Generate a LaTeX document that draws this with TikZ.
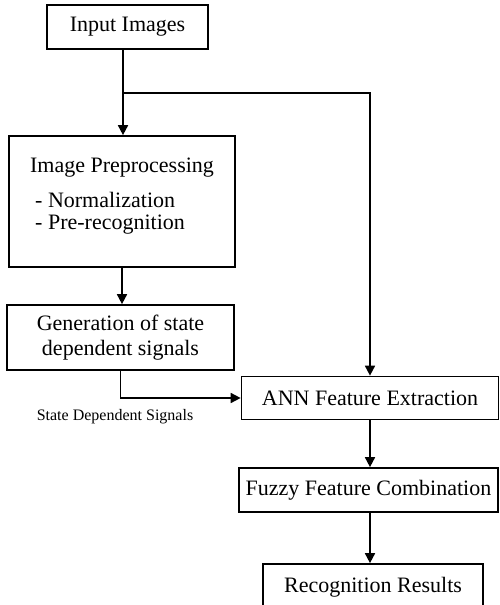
\documentclass[tikz,border=0pt]{standalone}
\usepackage{fontspec}
\setmainfont{Liberation Serif}
\usetikzlibrary{arrows.meta}
\begin{document}
\begin{tikzpicture}[x=1pt,y=-1pt,
  box/.style={draw,line width=1.7pt,inner sep=0pt,font=\fontsize{22}{25}\selectfont,align=center},
  txt/.style={inner sep=0pt,font=\fontsize{22}{25}\selectfont},
  arr/.style={line width=1.7pt,-{Triangle[length=10pt,width=10pt]}}]
\useasboundingbox (0,0) rectangle (499,605);
\node[box,minimum width=161pt,minimum height=44pt] (in) at (127.5,27) {Input Images};
\node[box,minimum width=226pt,minimum height=131pt] (pre) at (122,201.5) {};
\node[txt] (pret) at (122,168) {Image Preprocessing};
\node[txt,anchor=west] (n1) at (35,200) {- Normalization};
\node[txt,anchor=west] (n2) at (35,225) {- Pre-recognition};
\node[box,minimum width=227pt,minimum height=65pt] (gen) at (120.5,337.5) {Generation of state\\dependent signals};
\node[box,minimum width=257pt,minimum height=43pt] (ann) at (370,398) {ANN Feature Extraction};
\node[box,minimum width=259pt,minimum height=44pt] (fuz) at (368.5,490) {Fuzzy Feature Combination};
\node[box,minimum width=220pt,minimum height=46pt] (rec) at (373,587) {Recognition Results};
\node[inner sep=0pt,font=\fontsize{16}{18}\selectfont] (sds) at (115,417) {State Dependent Signals};
\coordinate (br) at (123,93);
\draw[arr] (in.south -| br) -- (br |- pre.north);
\draw[arr] (br) -| (ann.north);
\draw[arr] (pre.south) -- (pre.south |- gen.north);
\draw[arr] (gen.south) |- (ann.west);
\draw[arr] (ann.south) -- (ann.south |- fuz.north);
\draw[arr] (fuz.south -| ann.south) -- (ann.south |- rec.north);
\end{tikzpicture}
\end{document}
